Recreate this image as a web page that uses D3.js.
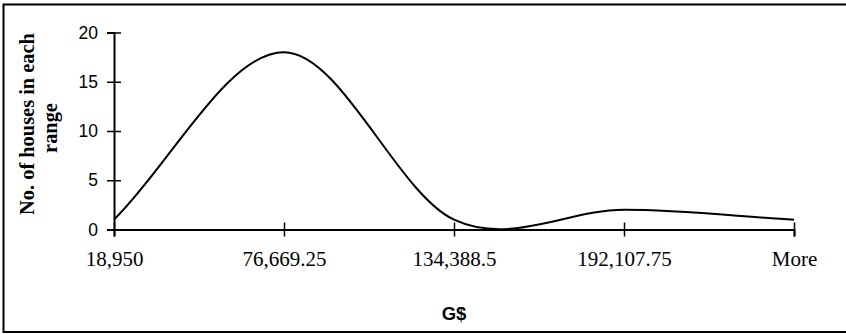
<!DOCTYPE html>
<html>
<head>
<meta charset="utf-8">
<script src="https://cdn.jsdelivr.net/npm/d3@7"></script>
<style>
  body { margin: 0; background: #fff; }
  svg { display: block; }
</style>
</head>
<body>
<div id="chart"></div>
<script>
// histogram bins (category axis) and counts
var bins = ["18,950", "76,669.25", "134,388.5", "192,107.75", "More"];
var counts = [1, 18, 1, 2, 1];
var yTicks = [0, 5, 10, 15, 20];

var width = 846, height = 334;
// plot edges (note: "top" is taken by window.top)
var plotLeft = 114, plotRight = 794, plotTop = 32.5, plotBottom = 229.5;

// Excel style smoothed line: catmull-rom tangents, one sided at the ends
function excelSmooth(context) {
  var pts = [];
  return {
    areaStart: function() {},
    areaEnd: function() {},
    lineStart: function() { pts = []; },
    point: function(x, y) { pts.push([+x, +y]); },
    lineEnd: function() {
      var n = pts.length;
      if (!n) return;
      context.moveTo(pts[0][0], pts[0][1]);
      for (var i = 0; i < n - 1; i++) {
        var p0 = pts[Math.max(i - 1, 0)], p1 = pts[i], p2 = pts[i + 1], p3 = pts[Math.min(i + 2, n - 1)];
        var k1 = i === 0 ? 3 : 6, k2 = i === n - 2 ? 3 : 6;
        context.bezierCurveTo(
          p1[0] + (p2[0] - p0[0]) / k1, p1[1] + (p2[1] - p0[1]) / k1,
          p2[0] - (p3[0] - p1[0]) / k2, p2[1] - (p3[1] - p1[1]) / k2,
          p2[0], p2[1]);
      }
    }
  };
}

var svg = d3.select("#chart").append("svg")
  .attr("width", width)
  .attr("height", height);

// outer frame
svg.append("rect")
  .attr("x", 3.5).attr("y", 4.5)
  .attr("width", 846).attr("height", 327.5)
  .attr("fill", "none")
  .attr("stroke", "#000")
  .attr("stroke-width", 2);

var x = d3.scalePoint().domain(bins).range([plotLeft, plotRight]);
var y = d3.scaleLinear().domain([0, 20]).range([plotBottom, plotTop]);

// y axis
var yAxis = svg.append("g")
  .attr("transform", "translate(" + plotLeft + ",0)")
  .call(d3.axisLeft(y).tickValues(yTicks).tickSize(7).tickPadding(9));
yAxis.select(".domain").attr("stroke-width", 2);
yAxis.selectAll(".tick line").attr("x2", 7).attr("x1", -7).attr("stroke-width", 1.5);
yAxis.selectAll(".tick text")
  .attr("font-family", "'Liberation Sans', Arial, sans-serif")
  .attr("font-size", "17.5px")
  .attr("fill", "#000");

// x axis
var xAxis = svg.append("g")
  .attr("transform", "translate(0," + plotBottom + ")")
  .call(d3.axisBottom(x).tickSizeOuter(0).tickSize(7).tickPadding(15));
xAxis.select(".domain").attr("stroke-width", 2);
xAxis.selectAll(".tick line").attr("y1", -7).attr("y2", 7).attr("stroke-width", 1.5);
xAxis.selectAll(".tick text")
  .attr("font-family", "'Liberation Serif', 'Times New Roman', serif")
  .attr("font-size", "21px")
  .attr("fill", "#000");

// the curve
var line = d3.line()
  .x(function(d, i) { return x(bins[i]); })
  .y(function(d) { return y(d); })
  .curve(excelSmooth);

svg.append("path")
  .datum(counts)
  .attr("d", line)
  .attr("fill", "none")
  .attr("stroke", "#000")
  .attr("stroke-width", 2);

// axis titles
svg.append("text")
  .attr("x", (plotLeft + plotRight) / 2)
  .attr("y", 320)
  .attr("text-anchor", "middle")
  .attr("font-family", "'Liberation Sans', Arial, sans-serif")
  .attr("font-weight", "bold")
  .attr("font-size", "18.5px")
  .text("G$");

var yTitle = svg.append("text")
  .attr("transform", "translate(34,124) rotate(-90)")
  .attr("text-anchor", "middle")
  .attr("font-family", "'Liberation Serif', 'Times New Roman', serif")
  .attr("font-weight", "bold")
  .attr("font-size", "20.4px");
yTitle.append("tspan").attr("x", 0).attr("y", 0).text("No. of houses in each");
yTitle.append("tspan").attr("x", -4).attr("y", 23).text("range");
</script>
</body>
</html>
